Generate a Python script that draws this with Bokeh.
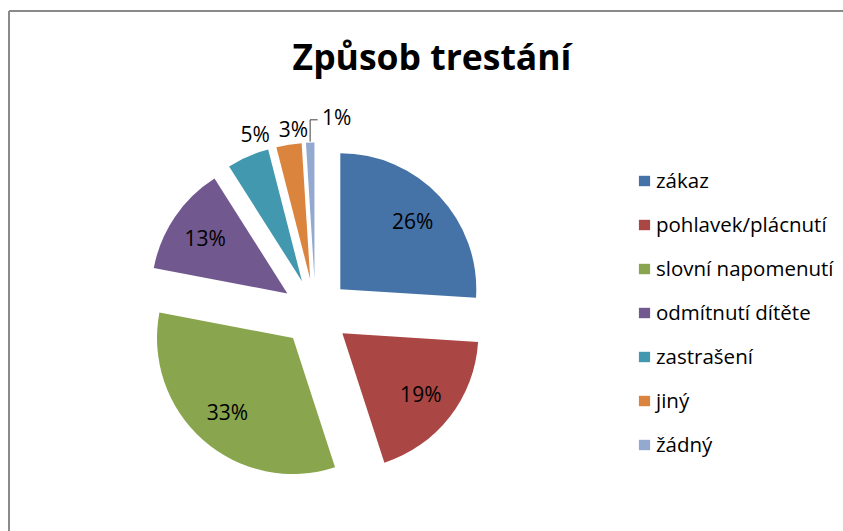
import numpy as np
from bokeh.plotting import figure
from bokeh.models import ColumnDataSource, Legend, LegendItem, Range1d
from bokeh.core.properties import value
from bokeh.embed import file_html
from bokeh.resources import INLINE

# ---- data ----
title = "Způsob trestání"
categories = ["zákaz", "pohlavek/plácnutí", "slovní napomenutí", "odmítnutí dítěte",
              "zastrašení", "jiný", "žádný"]
values = [26, 19, 33, 13, 5, 3, 1]
colors = ["#4572A7", "#AA4643", "#89A54E", "#71588F", "#4198AF", "#DB843D", "#93A9CF"]

# ---- layout constants ----
W, H = 843, 531
FONT = "Open Sans"
CX, CY = 315, H - 312            # pie centre (page pixel coordinates, y up)
R = 136                          # radius
EXPLODE = 34                     # explosion distance
label_radius = [0.73, 0.73, 0.73, 0.73, 1.14, 1.11, 1.2]   # label distance / R
label_nudge_deg = [0, 0, 0, 0, 5.8, 2.6, 9.6]               # angular nudge of labels

p = figure(width=W, height=H, output_backend="svg", toolbar_location=None,
           x_range=Range1d(0, W), y_range=Range1d(0, H),
           x_axis_type=None, y_axis_type=None, min_border=0)
p.outline_line_color = None
p.background_fill_color = "white"
p.border_fill_color = "white"

# chart frame border (left and top edges visible)
p.segment(x0=[8.5, 8.5], y0=[H - 10.5, H - 10.5], x1=[8.5, W],
          y1=[0, H - 10.5], line_color="#8a8a8a", line_width=2)

vals = np.array(values, dtype=float)
frac = vals / vals.sum()
cum = np.concatenate([[0.0], np.cumsum(frac)])
th0 = cum[:-1] * 2 * np.pi        # clockwise from 12 o'clock
th1 = cum[1:] * 2 * np.pi
thm = (th0 + th1) / 2
ox = CX + EXPLODE * np.sin(thm)
oy = CY + EXPLODE * np.cos(thm)

src = ColumnDataSource(dict(x=ox, y=oy, start=np.pi / 2 - th1, end=np.pi / 2 - th0,
                            color=colors, cat=categories))
r = p.wedge(x="x", y="y", radius=R, start_angle="start", end_angle="end",
            direction="anticlock", fill_color="color", line_color=None, source=src)

# data labels
lx, ly, ltxt = [], [], []
for i, v in enumerate(values):
    f = label_radius[i]
    a = thm[i] + np.deg2rad(label_nudge_deg[i])
    lx.append(ox[i] + f * R * np.sin(a))
    ly.append(oy[i] + f * R * np.cos(a))
    ltxt.append(f"{v}%")
p.text(x=lx, y=ly, text=ltxt, text_align="center", text_baseline="middle",
       text_font=value(FONT), text_font_size="21px", text_color="#000000")

# leader line for the smallest slice
k = len(values) - 1
sx0 = ox[k] + (R + 1) * np.sin(thm[k])
sy0 = oy[k] + (R + 1) * np.cos(thm[k])
ty = ly[k] - 3
p.line(x=[sx0, sx0, lx[k] - 19], y=[sy0, ty, ty], line_color="#404040", line_width=1)

# title
p.text(x=[431.5], y=[H - 55], text=[title], text_align="center",
       text_baseline="alphabetic", text_font=value(FONT), text_font_size="35.5px",
       text_font_style="bold", text_color="#000000")

items = [LegendItem(label=c, renderers=[r], index=i) for i, c in enumerate(categories)]
legend = Legend(items=items, location=(637, 73), border_line_color=None,
                background_fill_alpha=0, padding=0, margin=0, spacing=16,
                glyph_width=14, glyph_height=13, label_standoff=5, label_height=20,
                label_text_font=FONT, label_text_font_size="20.5px",
                label_text_color="#000000")
p.add_layout(legend)

open("out.html", "w").write(file_html(p, INLINE))
